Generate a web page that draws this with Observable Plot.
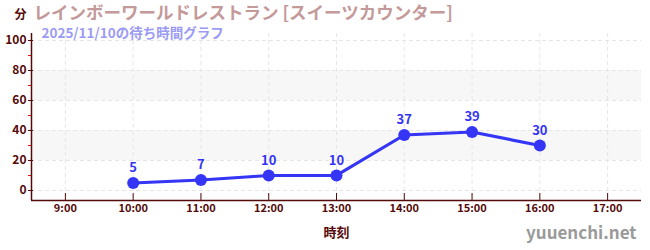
<!DOCTYPE html>
<html><head><meta charset="utf-8">
<script src="https://cdn.jsdelivr.net/npm/d3@7"></script>
<script src="https://cdn.jsdelivr.net/npm/@observablehq/plot@0.6"></script>
<style>
body{margin:0;background:#fff;}
#chart{position:relative;width:650px;height:250px;}
</style>
</head><body><div id="chart"></div>
<script>
const title = "レインボーワールドレストラン [スイーツカウンター]";
const subtitle = "2025/11/10の待ち時間グラフ";
const yUnit = "分";
const xLabel = "時刻";
const watermark = "yuuenchi.net";
const hours = [10, 11, 12, 13, 14, 15, 16];
const waits = [5, 7, 10, 10, 37, 39, 30];
const xTicks = [9, 10, 11, 12, 13, 14, 15, 16, 17];
const yTicks = [0, 20, 40, 60, 80, 100];
const yMinor = [10, 30, 50, 70, 90];
const bands = [[20, 40], [60, 80]];

const data = hours.map((h, i) => ({h, v: waits[i]}));
const axisColor = "#550a0a";
const blue = "#3535f5";
const xDomain = [8.5, 17.5];
const yDomain = [-6.67, 104.67];

const plot = Plot.plot({
  width: 650, height: 250,
  marginLeft: 31, marginRight: 9, marginTop: 33, marginBottom: 50,
  x: {type: "linear", domain: xDomain},
  y: {type: "linear", domain: yDomain},
  style: {fontFamily: "'Noto Sans CJK JP', sans-serif", background: "#fff"},
  marks: [
    Plot.rectY(bands, {x1: xDomain[0], x2: xDomain[1], y1: d => d[0], y2: d => d[1], fill: "#f7f7f7"}),
    Plot.ruleY(yTicks, {stroke: "#e6e6e6", strokeDasharray: "4,3"}),
    Plot.ruleX(xTicks, {stroke: "#e6e6e6", strokeDasharray: "4,3"}),
    Plot.axisY({ticks: yTicks, tickSize: 5, dx: 2, tickPadding: 2, stroke: axisColor, fill: axisColor, fontSize: 12, fontWeight: "bold", label: null}),
    Plot.axisY({ticks: yMinor, tickSize: 3, text: null, stroke: "#dd1111", label: null}),
    Plot.axisX({ticks: xTicks, tickSize: -7, text: null, stroke: axisColor, label: null}),
    Plot.axisX({ticks: xTicks, tickSize: 0, tickPadding: 4, tickFormat: d => d + ":00", fill: axisColor, fontSize: 11, fontWeight: "bold", label: null}),
    Plot.ruleX([xDomain[0]], {stroke: axisColor, strokeWidth: 1.5}),
    Plot.ruleY([yDomain[0]], {stroke: axisColor, strokeWidth: 1.5}),
    Plot.line(data, {x: "h", y: "v", stroke: blue, strokeWidth: 3.2}),
    Plot.dot(data, {x: "h", y: "v", r: 6, fill: blue}),
    Plot.text(data, {x: "h", y: "v", text: d => String(d.v), dy: -15, fill: blue, fontSize: 13, fontWeight: "bold"}),
    Plot.text([title], {frameAnchor: "top-left", dx: 2, dy: -27, lineAnchor: "top", fill: "#c49999", fontSize: 17.5, fontWeight: "bold"}),
    Plot.text([subtitle], {frameAnchor: "top-left", dx: 10, dy: -5, lineAnchor: "top", fill: "#9b9bf5", fontSize: 13.5, fontWeight: "bold"}),
    Plot.text([yUnit], {frameAnchor: "top-left", dx: -17, dy: -23, lineAnchor: "top", fill: axisColor, fontSize: 12, fontWeight: "bold"}),
    Plot.text([xLabel], {frameAnchor: "bottom", dy: 36, fill: axisColor, fontSize: 13, fontWeight: "bold"}),
    Plot.text([watermark], {frameAnchor: "bottom-right", dx: -5, dy: 38, fill: "#9a9a9a", fontSize: 17, fontWeight: "bold"})
  ]
});
document.getElementById("chart").append(plot);
</script>
</body></html>
